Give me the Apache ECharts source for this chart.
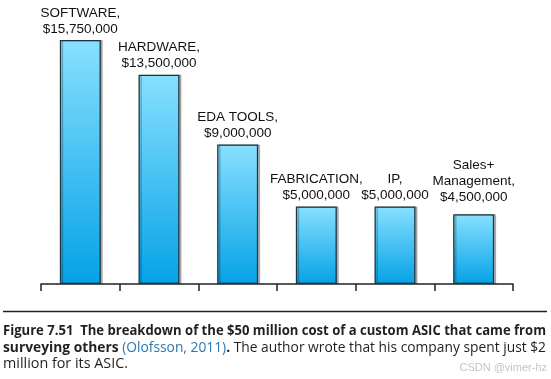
<!DOCTYPE html>
<html><head><meta charset="utf-8">
<script src="https://cdn.jsdelivr.net/npm/echarts@6/dist/echarts.min.js"></script>
<style>html,body{margin:0;padding:0;background:#fff}#c{width:551px;height:379px}</style>
</head><body><div id="c"></div>
<script>
const categories = ['SOFTWARE', 'HARDWARE', 'EDA TOOLS', 'FABRICATION', 'IP', 'Sales+\nManagement'];
const costs = [15750000, 13500000, 9000000, 5000000, 5000000, 4500000];
const captionLine1 = [['b', 'Figure 7.51'], ['b', '  The breakdown of the $50 million cost of a custom ASIC that came from']];
const captionLine2 = [['b', 'surveying others '], ['l', '(Olofsson, 2011)'], ['b', '.'], ['r', ' The author wrote that his company spent just $2']];
const captionLine3 = [['r', 'million for its ASIC.']];
const watermark = 'CSDN @vimer-hz';

const CAP_FONT = '"Open Sans", "Noto Sans", sans-serif';
const richStyles = {
  b: { fontWeight: 'bold', fontSize: 14.5, fontFamily: CAP_FONT, fill: '#231f20' },
  l: { fontWeight: 'normal', fontSize: 14.5, fontFamily: CAP_FONT, fill: '#2b78b4' },
  r: { fontWeight: 'normal', fontSize: 14.5, fontFamily: CAP_FONT, fill: '#231f20' }
};
const cv = document.createElement('canvas').getContext('2d');
function lineWidth(segs) {
  let w = 0;
  segs.forEach(([k, t]) => {
    const s = richStyles[k];
    cv.font = s.fontWeight + ' ' + s.fontSize + 'px ' + s.fontFamily;
    w += cv.measureText(t).width;
  });
  return w;
}
function captionText(segs, y, target) {
  const w = lineWidth(segs);
  return {
    type: 'text', x: 3, y: y, scaleX: target / w, scaleY: 1,
    style: {
      text: segs.map(([k, t]) => '{' + k + '|' + t + '}').join(''),
      rich: richStyles, x: 0, y: 0, textVerticalAlign: 'middle', textAlign: 'left'
    }
  };
}
function fmt(v) { return '$' + v.toString().replace(/\B(?=(\d{3})+(?!\d))/g, ','); }

const chart = echarts.init(document.getElementById('c'));
chart.setOption({
  animation: false,
  grid: { left: 41, right: 38, top: 36, bottom: 95 },
  xAxis: {
    type: 'category', data: categories,
    axisLine: { lineStyle: { color: '#222', width: 1.5 } },
    axisTick: { show: true, interval: 0, length: 7, lineStyle: { color: '#222', width: 1.5 } },
    axisLabel: { show: false, interval: 0 }
  },
  yAxis: { type: 'value', min: 0, max: 16000000, show: false, splitLine: { show: false } },
  series: [{
    type: 'bar', barWidth: 41,
    data: costs.map((v, i) => i === 5 ? { value: v, label: { distance: 9 } } : v),
    itemStyle: {
      color: new echarts.graphic.LinearGradient(0, 0, 0, 1, [
        { offset: 0, color: '#88e0ff' }, { offset: 1, color: '#05a2e6' }
      ]),
      borderColor: '#1d3441', borderWidth: 1.3,
      shadowColor: 'rgba(0,0,0,0.25)', shadowOffsetX: 2, shadowOffsetY: 0, shadowBlur: 0
    },
    label: {
      show: true, position: 'top', distance: 3,
      fontFamily: '"Liberation Sans", Arial, sans-serif', fontSize: 13.5, lineHeight: 16,
      color: '#111', align: 'center',
      formatter: p => p.name + ',\n' + fmt(p.value)
    }
  }],
  graphic: [
    { type: 'line', shape: { x1: 3, y1: 311.5, x2: 547, y2: 311.5 }, style: { stroke: '#222', lineWidth: 1.6 } },
    captionText(captionLine1, 331, 543),
    captionText(captionLine2, 347.5, 543),
    captionText(captionLine3, 364, 125),
    { type: 'text', x: 547, y: 368, style: { text: watermark, font: '11px "Liberation Sans", Arial, sans-serif', fill: '#c4c4c4', textAlign: 'right', textVerticalAlign: 'middle' } }
  ]
});
</script></body></html>
